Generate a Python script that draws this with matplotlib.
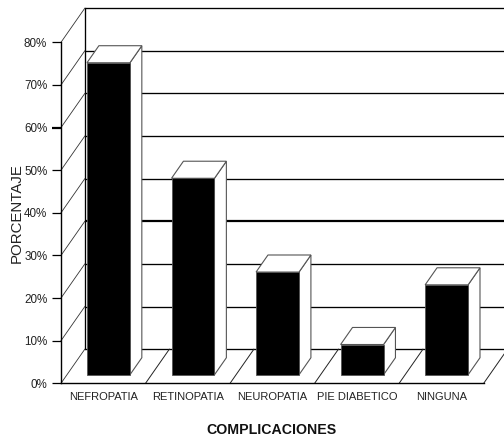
import matplotlib
matplotlib.use("Agg")
import matplotlib.pyplot as plt
from matplotlib.patches import Polygon

categories = ["NEFROPATIA", "RETINOPATIA", "NEUROPATIA", "PIE DIABETICO", "NINGUNA"]
values = [73.2, 46.1, 24.1, 7.1, 21.1]
y_ticks = [0, 10, 20, 30, 40, 50, 60, 70, 80]

W, H = 504, 440
FIG_L, FIG_R, FIG_T, FIG_B = 61, 483.7, 42.3, 383.3

fig = plt.figure(figsize=(W / 100, H / 100), dpi=100, facecolor="white")
ax = fig.add_axes([FIG_L / W, 1 - FIG_B / H, (FIG_R - FIG_L) / W, (FIG_B - FIG_T) / H])
ax.set_xlim(0, len(categories))
ax.set_ylim(0, 80)
ax.patch.set_visible(False)

# Oblique projection: depth d in [0, 1] shifts a point right and up
DX, DY = 0.2815, 8.0


def proj(x, y, d):
    return x + DX * d, y + DY * d


X_FONT = dict(family="Liberation Sans", fontsize=8.0, color="#222222")
Y_FONT = dict(family="Liberation Sans", fontsize=8.4, color="#222222")
EDGE = "#555555"

# Back wall: gridlines and frame (the 30% line prints heavier)
for t in y_ticks:
    x0, y0 = proj(0, t, 1)
    x1, _ = proj(len(categories), t, 1)
    ax.plot([x0, x1], [y0, y0], color="black", lw=1.6 if t == 30 else 0.95,
            clip_on=False, zorder=1, solid_capstyle="butt")
ax.plot(*zip(proj(0, 0, 1), proj(0, 80, 1)), color="black", lw=0.95, clip_on=False, zorder=1)

# Side wall diagonals
for t in y_ticks:
    ax.plot(*zip(proj(0, t, 0), proj(0, t, 1)), color="#333333", lw=0.6, clip_on=False, zorder=1)

# Floor dividers between categories
for i in range(1, len(categories) + 1):
    ax.plot(*zip(proj(i, 0, 0), proj(i, 0, 1)), color="#222222", lw=0.7, clip_on=False, zorder=1)

# Bars with an oblique top and right side
BAR_L, BAR_R = 0.237, 0.745
D0, D1 = 0.25, 0.75
for i, v in enumerate(values):
    l, r = i + BAR_L, i + BAR_R
    side = [proj(r, 0, D0), proj(r, 0, D1), proj(r, v, D1), proj(r, v, D0)]
    top = [proj(l, v, D0), proj(r, v, D0), proj(r, v, D1), proj(l, v, D1)]
    front = [proj(l, 0, D0), proj(r, 0, D0), proj(r, v, D0), proj(l, v, D0)]
    ax.add_patch(Polygon(side, fc="white", ec=EDGE, lw=0.8, clip_on=False, zorder=3))
    ax.add_patch(Polygon(top, fc="white", ec=EDGE, lw=0.8, clip_on=False, zorder=3))
    ax.add_patch(Polygon(front, fc="black", ec=EDGE, lw=0.6, clip_on=False, zorder=4))

for s in ("top", "right"):
    ax.spines[s].set_visible(False)
for s in ("left", "bottom"):
    ax.spines[s].set_linewidth(1.0)

ax.set_yticks(y_ticks)
ax.set_yticklabels([f"{t}%" for t in y_ticks], **Y_FONT)
ax.tick_params(axis="y", length=6.5, width=0.9, pad=3.4)
ax.yaxis.get_major_ticks()[y_ticks.index(60)].tick1line.set_markeredgewidth(1.6)
ax.set_xticks([i + 0.5 for i in range(len(categories))])
ax.set_xticklabels(categories, **X_FONT)
ax.tick_params(axis="x", length=0, pad=6.5)

fig.text(17 / W, 1 - 213 / H, "PORCENTAJE", rotation=90, ha="center", va="center",
         family="Liberation Sans", fontsize=10.8, color="#222222")
fig.text(271.5 / W, 1 - 429.5 / H, "COMPLICACIONES", ha="center", va="center",
         family="Liberation Sans", fontweight="bold", fontsize=10.2, color="#111111")

fig.savefig("out.png", dpi=100)
